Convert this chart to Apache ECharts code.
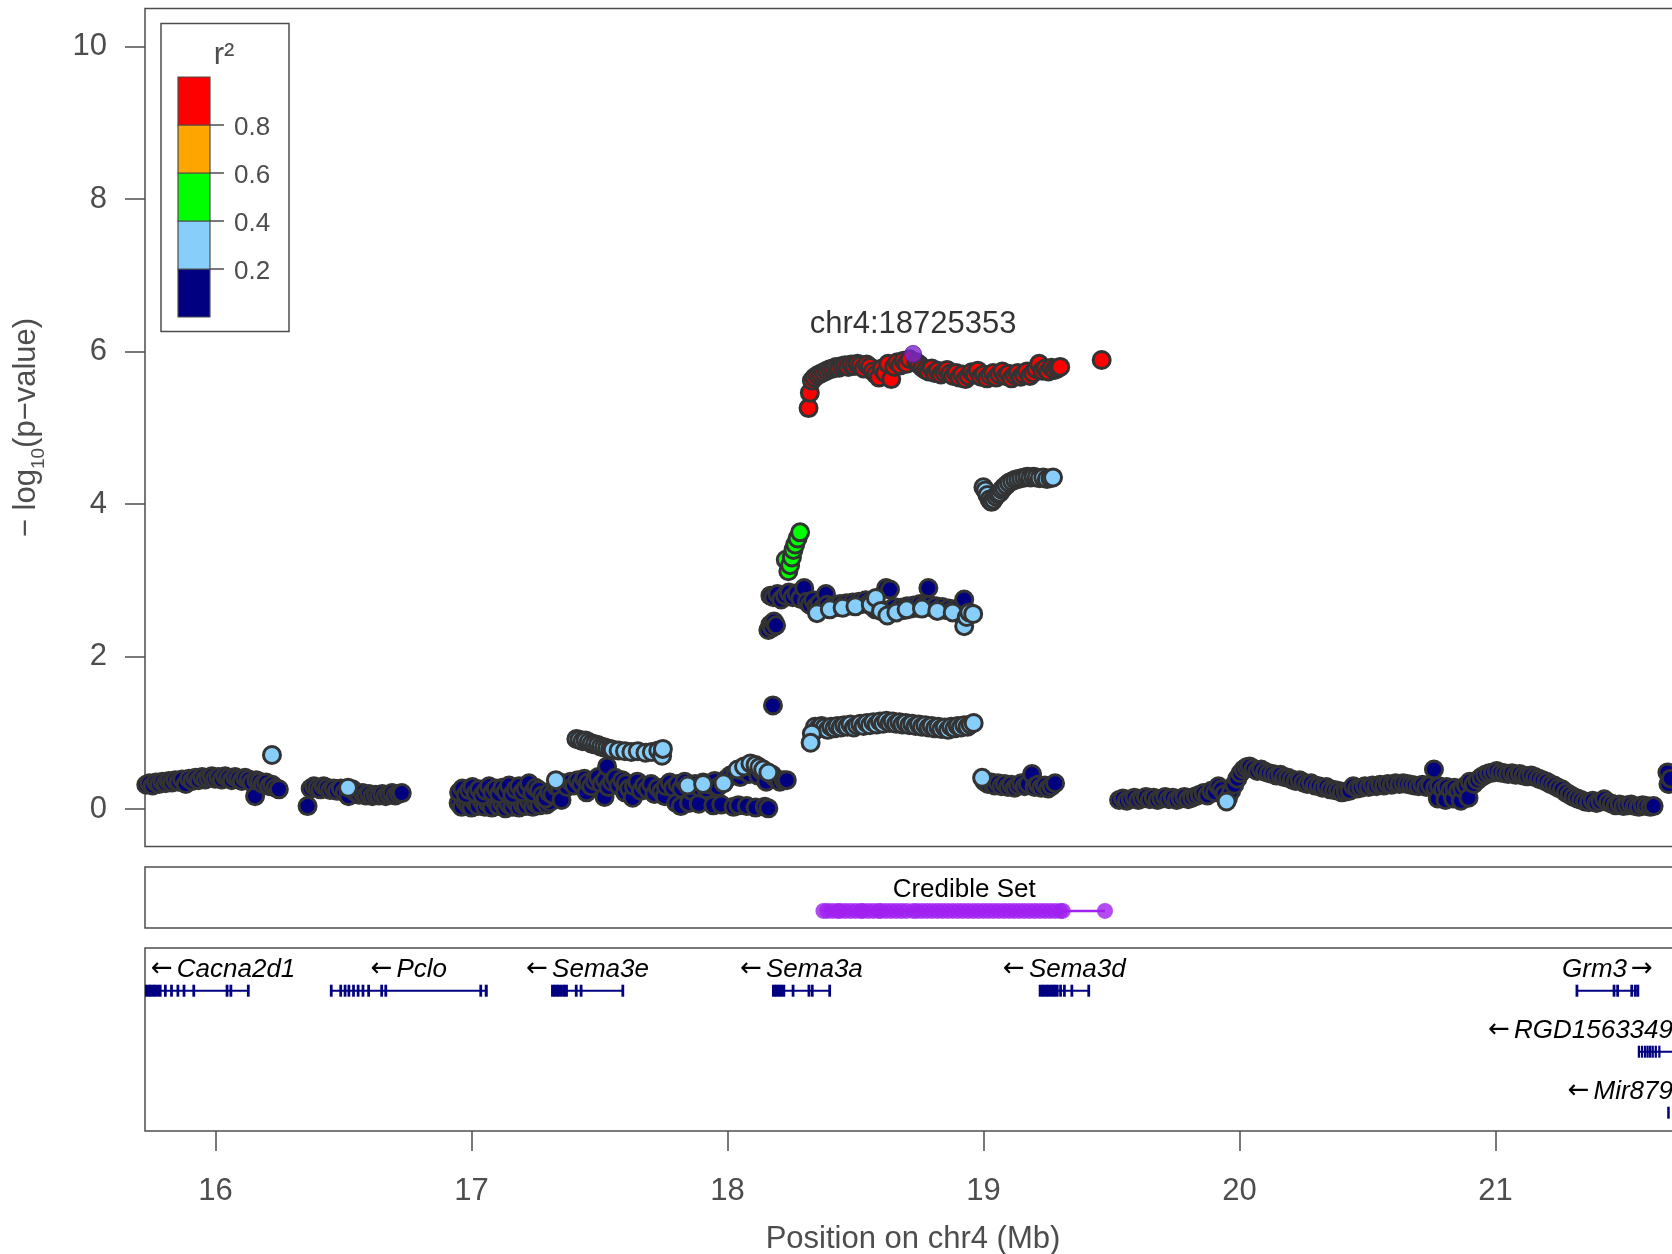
<!DOCTYPE html>
<html>
<head>
<meta charset="utf-8">
<style>
    html, body { margin: 0; padding: 0; background: #fff; }
    #container { width: 1672px; height: 1254px; }
</style>
</head>
<body>
<div id="container"></div>
<script src="https://cdn.jsdelivr.net/npm/echarts@6/dist/echarts.min.js"></script>
<script>
// axis ranges and ticks
const xMin = 15.725, xMax = 21.725;
const xTicks = [16, 17, 18, 19, 20, 21];
const yTicks = [0, 2, 4, 6, 8, 10];

// LD legend (r2 bins, low -> high)
const ldColors = ['#000080', '#87CEFA', '#00FF00', '#FFA500', '#FF0000'];
const ldBreaks = ['0.2', '0.4', '0.6', '0.8'];

// [position (Mb), -log10 p] per r2 bin
const navyPts = [
    [15.730,0.32],[15.742,0.34],[15.755,0.31],[15.768,0.35],[15.780,0.33],[15.793,0.36],[15.806,0.34],[15.818,0.37],[15.830,0.35],[15.843,0.38],
    [15.856,0.36],[15.870,0.39],[15.884,0.33],[15.897,0.40],[15.910,0.37],[15.922,0.41],[15.935,0.38],[15.948,0.42],[15.960,0.39],[15.973,0.41],
    [15.986,0.43],[15.999,0.40],[16.012,0.42],[16.025,0.39],[16.038,0.43],[16.051,0.41],[16.064,0.38],[16.077,0.42],[16.090,0.40],[16.103,0.37],
    [16.116,0.41],[16.130,0.39],[16.142,0.35],[16.155,0.17],[16.160,0.38],[16.172,0.36],[16.185,0.33],[16.198,0.35],[16.210,0.30],[16.222,0.32],
    [16.235,0.28],[16.248,0.26],
    [16.360,0.04],[16.372,0.27],[16.385,0.30],[16.398,0.28],[16.410,0.26],[16.423,0.30],[16.436,0.28],[16.449,0.25],[16.462,0.27],[16.475,0.24],
    [16.490,0.27],[16.505,0.22],[16.520,0.17],[16.535,0.26],[16.548,0.22],[16.561,0.19],[16.575,0.21],[16.588,0.18],[16.600,0.20],[16.613,0.17],
    [16.626,0.19],[16.639,0.18],[16.652,0.20],[16.665,0.17],[16.678,0.19],[16.690,0.21],[16.703,0.18],[16.716,0.20],[16.728,0.21],
    [16.950,0.08],[16.962,0.03],[16.975,0.10],[16.988,0.05],[17.000,0.02],[17.013,0.09],[17.026,0.04],[17.040,0.11],[17.053,0.03],[17.066,0.07],
    [17.080,0.02],[17.093,0.10],[17.106,0.04],[17.120,0.08],[17.133,0.01],[17.146,0.06],[17.160,0.03],[17.173,0.09],[17.186,0.02],[17.200,0.06],
    [17.213,0.04],[17.226,0.10],[17.240,0.03],[17.253,0.07],[17.266,0.05],[17.280,0.11],[17.293,0.06],[17.306,0.09],
    [16.952,0.22],[16.965,0.27],[16.978,0.19],[16.991,0.25],[17.004,0.29],[17.017,0.21],[17.030,0.26],[17.043,0.18],[17.056,0.24],[17.069,0.30],
    [17.082,0.22],[17.095,0.27],[17.108,0.20],[17.121,0.28],[17.134,0.23],[17.147,0.31],[17.160,0.19],[17.173,0.26],[17.186,0.30],[17.199,0.22],
    [17.212,0.27],[17.225,0.34],[17.238,0.21],[17.251,0.28],[17.264,0.25],[17.277,0.18],[17.290,0.14],[17.303,0.22],[17.316,0.19],
    [17.330,0.30],[17.345,0.27],[17.352,0.12],[17.360,0.34],[17.374,0.29],[17.388,0.36],[17.401,0.31],[17.415,0.38],[17.428,0.33],[17.441,0.40],
    [17.450,0.22],[17.455,0.35],[17.468,0.30],[17.482,0.37],[17.495,0.42],[17.508,0.33],[17.520,0.16],[17.522,0.38],[17.530,0.56],[17.535,0.29],
    [17.549,0.36],[17.562,0.41],[17.575,0.31],[17.589,0.38],[17.600,0.22],[17.603,0.34],[17.616,0.27],[17.630,0.15],[17.635,0.30],[17.648,0.36],
    [17.662,0.24],[17.675,0.31],[17.688,0.26],[17.702,0.33],[17.715,0.20],[17.728,0.28],[17.742,0.23],[17.755,0.17],[17.760,0.30],
    [17.775,0.35],[17.788,0.28],[17.800,0.08],[17.805,0.33],[17.818,0.04],[17.820,0.27],[17.833,0.36],[17.846,0.30],[17.850,0.08],[17.860,0.24],
    [17.874,0.33],[17.888,0.07],[17.892,0.28],[17.905,0.35],[17.918,0.26],[17.932,0.32],[17.945,0.05],[17.950,0.37],[17.963,0.29],[17.976,0.06],
    [17.985,0.34],[17.998,0.40],[18.011,0.44],[18.024,0.03],[18.030,0.47],[18.043,0.05],[18.050,0.42],[18.063,0.50],[18.076,0.04],[18.085,0.46],
    [18.098,0.55],[18.110,0.02],[18.120,0.44],[18.133,0.50],[18.146,0.03],[18.152,0.36],[18.160,0.01],[18.175,0.45],[18.190,0.40],[18.205,0.36],
    [18.220,0.38],[18.232,0.38],
    [18.178,1.36],
    [18.160,2.35],[18.168,2.42],[18.175,2.38],[18.182,2.46],[18.190,2.41],[18.168,2.80],[18.180,2.78],[18.195,2.82],[18.210,2.75],[18.225,2.80],
    [18.240,2.84],[18.255,2.78],[18.270,2.83],[18.285,2.76],[18.300,2.90],
    [18.310,2.72],[18.322,2.68],[18.335,2.74],[18.347,2.66],[18.360,2.70],[18.372,2.64],[18.385,2.82],[18.390,2.68],[18.402,2.63],[18.415,2.67],
    [18.428,2.65],[18.440,2.69],[18.452,2.66],[18.465,2.70],[18.478,2.67],[18.490,2.71],[18.502,2.68],[18.515,2.72],[18.528,2.69],[18.540,2.74],
    [18.552,2.70],[18.565,2.66],[18.578,2.62],[18.590,2.64],[18.603,2.60],[18.620,2.90],[18.635,2.88],[18.640,2.62],[18.652,2.65],[18.665,2.60],
    [18.678,2.64],[18.690,2.61],[18.702,2.66],[18.715,2.63],[18.728,2.67],[18.740,2.64],[18.752,2.69],[18.765,2.66],[18.785,2.90],[18.790,2.68],
    [18.803,2.64],[18.815,2.66],[18.828,2.62],[18.840,2.65],[18.852,2.61],[18.865,2.63],[18.878,2.60],[18.890,2.62],[18.903,2.58],[18.915,2.60],
    [18.925,2.75],
    [19.005,0.36],[19.018,0.33],[19.031,0.35],[19.044,0.31],[19.057,0.34],[19.070,0.30],[19.083,0.33],[19.096,0.29],[19.109,0.32],[19.122,0.28],
    [19.135,0.31],[19.148,0.34],[19.161,0.30],[19.174,0.33],[19.190,0.46],[19.200,0.29],[19.213,0.32],[19.226,0.28],[19.240,0.31],[19.253,0.27],
    [19.266,0.30],[19.280,0.34],
    [19.530,0.12],[19.545,0.14],[19.560,0.11],[19.575,0.13],[19.590,0.15],[19.605,0.12],[19.620,0.14],[19.635,0.16],[19.650,0.13],[19.665,0.15],
    [19.680,0.12],[19.695,0.14],[19.710,0.16],[19.725,0.13],[19.740,0.15],[19.755,0.12],[19.770,0.14],[19.785,0.16],[19.800,0.13],[19.815,0.15],
    [19.830,0.17],[19.845,0.19],[19.860,0.21],[19.875,0.18],[19.890,0.24],[19.905,0.22],[19.918,0.30],[19.930,0.26],[19.942,0.20],[19.955,0.14],
    [19.968,0.24],[19.980,0.32],[19.992,0.40],[20.004,0.47],[20.016,0.52],[20.028,0.55],[20.040,0.56],[20.055,0.53],[20.070,0.50],[20.085,0.52],
    [20.100,0.49],[20.115,0.47],[20.130,0.46],[20.145,0.44],[20.160,0.45],[20.175,0.42],[20.190,0.41],[20.205,0.39],[20.220,0.37],[20.235,0.38],
    [20.250,0.35],[20.265,0.33],[20.280,0.34],[20.295,0.31],[20.310,0.30],[20.325,0.28],[20.340,0.29],[20.355,0.26],[20.370,0.25],[20.385,0.24],
    [20.400,0.22],[20.415,0.23],[20.430,0.24],[20.445,0.30],[20.460,0.27],[20.475,0.28],[20.490,0.30],[20.505,0.29],[20.520,0.31],[20.535,0.30],
    [20.550,0.32],[20.565,0.31],[20.580,0.33],[20.595,0.32],[20.610,0.34],[20.625,0.33],[20.640,0.34],[20.655,0.33],[20.670,0.32],[20.685,0.31],
    [20.700,0.30],[20.715,0.32],[20.730,0.29],[20.745,0.31],[20.760,0.52],[20.765,0.28],[20.775,0.14],[20.780,0.30],[20.795,0.26],[20.805,0.12],
    [20.810,0.29],[20.825,0.25],[20.835,0.14],[20.840,0.28],[20.855,0.24],[20.865,0.11],[20.870,0.27],[20.885,0.31],[20.895,0.15],[20.900,0.36],
    [20.915,0.33],[20.930,0.38],[20.945,0.42],[20.960,0.45],[20.975,0.47],[20.990,0.48],[21.005,0.50],[21.020,0.48],[21.035,0.47],[21.050,0.46],
    [21.065,0.47],[21.080,0.45],[21.095,0.46],[21.110,0.44],[21.125,0.43],[21.140,0.44],[21.155,0.42],[21.170,0.40],[21.185,0.38],[21.200,0.36],
    [21.215,0.33],[21.230,0.31],[21.245,0.28],[21.260,0.26],[21.275,0.22],[21.290,0.19],[21.305,0.16],[21.320,0.14],[21.335,0.12],[21.350,0.10],
    [21.365,0.09],[21.380,0.11],[21.395,0.08],[21.410,0.10],[21.425,0.13],[21.440,0.09],[21.455,0.07],[21.470,0.05],[21.485,0.06],[21.500,0.04],
    [21.515,0.05],[21.530,0.06],[21.545,0.04],[21.560,0.03],[21.575,0.05],[21.590,0.04],[21.605,0.03],[21.618,0.04],
    [21.672,0.48],[21.676,0.33],[21.685,0.40]
];
const lightPts = [
    [16.221,0.71],[16.518,0.28],[17.330,0.38],
    [17.410,0.92],[17.422,0.91],[17.434,0.89],[17.446,0.90],[17.458,0.88],[17.470,0.86],[17.482,0.85],[17.494,0.84],[17.506,0.82],[17.518,0.81],
    [17.530,0.80],[17.542,0.79],[17.552,0.78],[17.575,0.77],[17.600,0.76],[17.625,0.75],[17.650,0.76],[17.680,0.74],[17.705,0.75],[17.730,0.77],
    [17.745,0.70],[17.748,0.79],
    [17.845,0.31],[17.905,0.33],[17.985,0.34],[18.040,0.52],[18.065,0.56],[18.090,0.60],[18.110,0.58],[18.125,0.55],[18.140,0.52],[18.160,0.48],
    [18.350,2.57],[18.400,2.62],[18.450,2.64],[18.500,2.66],[18.560,2.68],[18.580,2.77],[18.600,2.60],[18.625,2.54],[18.660,2.58],[18.700,2.62],
    [18.760,2.63],[18.820,2.60],[18.880,2.58],[18.925,2.40],[18.935,2.52],[18.945,2.58],[18.960,2.56],
    [18.342,1.08],[18.355,1.06],[18.368,1.09],[18.380,1.07],[18.392,1.04],[18.405,1.08],[18.418,1.06],[18.430,1.09],[18.443,1.07],[18.456,1.10],
    [18.468,1.08],[18.481,1.11],[18.494,1.07],[18.506,1.10],[18.519,1.12],[18.532,1.09],[18.545,1.13],[18.557,1.10],[18.570,1.14],[18.583,1.11],
    [18.596,1.15],[18.608,1.12],[18.621,1.16],[18.634,1.13],[18.646,1.15],[18.659,1.12],[18.672,1.14],[18.684,1.11],[18.697,1.13],[18.710,1.10],
    [18.722,1.12],[18.735,1.09],[18.748,1.11],[18.760,1.08],[18.773,1.10],[18.786,1.07],[18.798,1.09],[18.811,1.06],[18.824,1.08],[18.836,1.05],
    [18.849,1.07],[18.862,1.04],[18.874,1.08],[18.887,1.06],[18.900,1.09],[18.912,1.07],[18.925,1.10],[18.938,1.08],[18.950,1.11],
    [18.330,0.99],[18.325,0.87],[18.962,1.13],
    [19.000,4.22],[19.008,4.18],[19.016,4.12],[19.024,4.06],[19.032,4.03],[19.040,4.06],[19.048,4.10],[19.056,4.13],[19.064,4.15],[19.072,4.19],
    [19.080,4.22],[19.090,4.25],[19.100,4.28],[19.112,4.30],[19.124,4.32],[19.136,4.33],[19.148,4.34],[19.160,4.35],[19.172,4.36],[19.184,4.35],
    [19.196,4.36],[19.208,4.35],[19.220,4.34],[19.234,4.35],[19.248,4.33],[19.262,4.34],[19.272,4.35],
    [18.995,0.41],[19.950,0.10]
];
const greenPts = [
    [18.228,3.27],[18.238,3.12],[18.245,3.20],[18.252,3.30],[18.258,3.40],[18.265,3.47],[18.274,3.55],[18.284,3.63]
];
const redPts = [
    [18.317,5.26],[18.322,5.46],[18.330,5.62],[18.340,5.66],[18.352,5.69],[18.364,5.71],[18.376,5.73],[18.388,5.75],[18.400,5.77],[18.412,5.78],
    [18.424,5.80],[18.436,5.79],[18.448,5.81],[18.460,5.82],[18.472,5.80],[18.484,5.83],[18.496,5.81],[18.508,5.84],[18.520,5.82],[18.532,5.78],
    [18.544,5.83],[18.556,5.80],[18.568,5.74],[18.580,5.70],[18.592,5.66],[18.604,5.78],[18.616,5.72],[18.628,5.84],[18.640,5.64],[18.652,5.80],
    [18.664,5.86],[18.676,5.82],[18.688,5.88],[18.700,5.84],[18.712,5.90],[18.738,5.86],[18.750,5.83],[18.762,5.79],[18.774,5.76],[18.786,5.74],
    [18.798,5.78],[18.810,5.72],[18.822,5.75],[18.834,5.70],[18.846,5.73],[18.858,5.76],[18.870,5.71],[18.882,5.68],[18.894,5.72],[18.906,5.66],
    [18.918,5.70],[18.930,5.64],[18.942,5.68],[18.954,5.73],[18.966,5.70],[18.978,5.75],[18.990,5.67],[19.002,5.70],[19.014,5.65],[19.026,5.69],
    [19.038,5.72],[19.050,5.66],[19.062,5.70],[19.074,5.74],[19.086,5.68],[19.098,5.71],[19.110,5.65],[19.122,5.69],[19.134,5.72],[19.146,5.67],
    [19.158,5.70],[19.170,5.74],[19.182,5.68],[19.194,5.72],[19.206,5.77],[19.218,5.84],[19.230,5.75],[19.242,5.78],[19.254,5.74],[19.266,5.79],
    [19.278,5.76],[19.290,5.78],[19.300,5.80],[19.462,5.89]
];
const leadSnp = [18.725353, 5.97];
const leadName = 'chr4:18725353';

// credible set positions (Mb)
const credibleSet = [
    18.375,18.39,18.41,18.43,18.44,18.46,18.48,18.50,18.52,18.53,18.55,18.57,18.59,18.60,18.62,18.64,18.66,18.68,18.70,18.725353,
    18.74,18.76,18.78,18.80,18.82,18.84,18.86,18.88,18.90,18.92,18.94,18.96,18.98,19.00,19.02,19.04,19.06,19.08,19.10,19.12,
    19.14,19.16,19.18,19.20,19.22,19.24,19.26,19.28,19.30,19.31,19.475
];

// genes: strand -1 = reverse, row = track line
const genes = [
    {name: 'Cacna2d1', start: 15.729, end: 16.130, strand: -1, row: 0,
        exons: [[15.729,15.742],[15.746,15.760],[15.765,15.786],[15.803,15.806],[15.827,15.830],[15.852,15.855],[15.876,15.879],[15.914,15.917],[16.044,16.047],[16.059,16.062],[16.127,16.130]]},
    {name: 'Pclo', start: 16.451, end: 17.060, strand: -1, row: 0,
        exons: [[16.451,16.454],[16.488,16.491],[16.505,16.508],[16.520,16.523],[16.538,16.541],[16.556,16.559],[16.575,16.578],[16.597,16.600],[16.648,16.651],[16.664,16.667],[17.035,17.038],[17.056,17.060]]},
    {name: 'Sema3e', start: 17.315, end: 17.593, strand: -1, row: 0,
        exons: [[17.315,17.322],[17.327,17.333],[17.338,17.350],[17.358,17.362],[17.367,17.373],[17.408,17.411],[17.427,17.430],[17.590,17.593]]},
    {name: 'Sema3a', start: 18.178, end: 18.401, strand: -1, row: 0,
        exons: [[18.178,18.186],[18.191,18.196],[18.200,18.206],[18.212,18.222],[18.255,18.258],[18.317,18.320],[18.330,18.333],[18.398,18.401]]},
    {name: 'Sema3d', start: 19.220, end: 19.413, strand: -1, row: 0,
        exons: [[19.220,19.230],[19.235,19.245],[19.250,19.262],[19.268,19.275],[19.280,19.290],[19.300,19.303],[19.315,19.318],[19.344,19.347],[19.410,19.413]]},
    {name: 'Grm3', start: 21.317, end: 21.558, strand: 1, row: 0,
        exons: [[21.317,21.320],[21.462,21.465],[21.476,21.479],[21.531,21.534],[21.545,21.548],[21.555,21.558]]},
    {name: 'RGD1563349', start: 21.560, end: 21.725, strand: -1, row: 1,
        exons: [[21.560,21.561],[21.572,21.573],[21.584,21.585],[21.594,21.595],[21.604,21.605],[21.614,21.615],[21.626,21.627],[21.640,21.641]]},
    {name: 'Mir879', start: 21.675, end: 21.677, strand: -1, row: 2,
        exons: [[21.675,21.677]]}
];

const font = '"Liberation Sans", Arial, sans-serif';
const grey = '#4d4d4d';
const border = '#333333';

const measureCtx = document.createElement('canvas').getContext('2d');
function textWidth(str, f) {
    measureCtx.font = f;
    return measureCtx.measureText(str).width;
}

const credible = credibleSet.map(x => [x, 0.28]);

function renderGene(params, api) {
    const g = genes[api.value(2)];
    const cs = params.coordSys;
    const yLine = api.coord([g.start, g.row + 0.7])[1];
    const x0 = api.coord([g.start, 0])[0];
    const x1 = api.coord([g.end, 0])[0];
    const kids = [{
        type: 'line',
        shape: {x1: x0, y1: yLine, x2: x1, y2: yLine},
        style: {stroke: '#000080', lineWidth: 2}
    }];
    g.exons.forEach(e => {
        const a = api.coord([e[0], 0])[0];
        const b = api.coord([e[1], 0])[0];
        kids.push({
            type: 'rect',
            shape: {x: a - 1, y: yLine - 6, width: Math.max(b - a, 0) + 2, height: 12},
            style: {fill: '#000080'}
        });
    });
    const nf = 'italic 26px ' + font;
    const af = '26px "DejaVu Sans"';
    const w = textWidth(g.name, nf) + textWidth('\u2190', af) + 4;
    const label = g.strand < 0 ? '{a|\u2190}' + g.name : g.name + '{b|\u2192}';
    let cx = (x0 + x1) / 2;
    cx = Math.min(cs.x + cs.width - 8 - w / 2, cx);
    cx = Math.max(cs.x + 6 + w / 2, cx);
    kids.push({
        type: 'text',
        x: cx, y: yLine - 21,
        style: {
            text: label, fontFamily: font, fontStyle: 'italic', fontSize: 26, fill: '#000',
            align: 'center', verticalAlign: 'middle',
            rich: {
                a: {fontFamily: 'DejaVu Sans', fontStyle: 'normal', fontSize: 26, padding: [0, 4, 0, 0]},
                b: {fontFamily: 'DejaVu Sans', fontStyle: 'normal', fontSize: 26, padding: [0, 0, 0, 4]}
            }
        }
    });
    return {type: 'group', children: kids};
}

function ptSeries(data, color) {
    return {
        type: 'scatter', xAxisIndex: 0, yAxisIndex: 0, data: data,
        symbol: 'circle', symbolSize: 17, silent: true, progressive: 0,
        itemStyle: {color: color, borderColor: border, borderWidth: 3, opacity: 1}
    };
}

const gridL = 145, gridW = 1536;
const frame = {show: true, borderColor: grey, borderWidth: 1.5, backgroundColor: 'transparent', outerBoundsMode: 'none', containLabel: false};
const option = {
    animation: false,
    backgroundColor: '#fff',
    grid: [
        Object.assign({left: gridL, top: 8.5, width: gridW, height: 838}, frame),
        Object.assign({left: gridL, top: 867, width: gridW, height: 61}, frame),
        Object.assign({left: gridL, top: 948, width: gridW, height: 183}, frame)
    ],
    xAxis: [0, 1, 2].map(i => ({
        gridIndex: i, type: 'value', min: xMin, max: xMax, position: 'bottom',
        splitLine: {show: false}, axisLine: {show: false, onZero: false},
        axisTick: i === 2 ? {show: true, inside: false, customValues: xTicks, length: 20, lineStyle: {color: grey, width: 1.5}} : {show: false},
        axisLabel: i === 2 ? {show: true, customValues: xTicks, fontSize: 31, color: grey, fontFamily: font, margin: 45} : {show: false},
        name: i === 2 ? 'Position on chr4 (Mb)' : '',
        nameLocation: 'middle', nameGap: 93,
        nameTextStyle: {fontSize: 31, color: grey, fontFamily: font}
    })),
    yAxis: [
        {
            gridIndex: 0, type: 'value', min: -0.49, max: 10.5,
            splitLine: {show: false}, axisLine: {show: false, onZero: false},
            axisTick: {show: true, customValues: yTicks, length: 20, lineStyle: {color: grey, width: 1.5}},
            axisLabel: {customValues: yTicks, fontSize: 31, color: grey, fontFamily: font, margin: 38},
            name: '\u2212 log{sub|10}(p\u2212value)',
            nameLocation: 'middle', nameGap: 97, nameRotate: 90,
            nameTextStyle: {
                fontSize: 31, color: grey, fontFamily: font, lineHeight: 44,
                rich: {sub: {fontSize: 19, color: grey, fontFamily: font, verticalAlign: 'bottom', lineHeight: 22}}
            }
        },
        {gridIndex: 1, type: 'value', min: 0, max: 1, show: false},
        {gridIndex: 2, type: 'value', min: 0, max: 3, inverse: true, show: false}
    ],
    series: [
        ptSeries(navyPts, ldColors[0]),
        ptSeries(lightPts, ldColors[1]),
        ptSeries(greenPts, ldColors[2]),
        ptSeries(redPts, ldColors[4]),
        {
            type: 'scatter', xAxisIndex: 0, yAxisIndex: 0, data: [leadSnp],
            symbol: 'circle', symbolSize: 17, silent: true,
            itemStyle: {color: '#7D26CD', borderColor: '#5a1a9a', borderWidth: 1},
            label: {show: true, position: 'top', distance: 5, formatter: leadName,
                fontSize: 31, color: '#000', fontFamily: font}
        },
        {
            type: 'line', xAxisIndex: 1, yAxisIndex: 1, data: credible,
            showSymbol: false, silent: true,
            lineStyle: {color: '#A020F0', width: 2.5}
        },
        {
            type: 'scatter', xAxisIndex: 1, yAxisIndex: 1, data: credible,
            symbol: 'circle', symbolSize: 16, silent: true,
            itemStyle: {color: '#A020F0'}
        },
        {
            type: 'custom', xAxisIndex: 2, yAxisIndex: 2, silent: true, clip: false,
            data: genes.map((g, i) => [g.start, g.row, i]),
            renderItem: renderGene
        }
    ]
};

const chart = echarts.init(document.getElementById('container'));
chart.setOption(option);

// legend for r2 and credible set label
const barX = 178, barTop = 77, binH = 48, barW = 32;
const legend = [{
    type: 'rect', z: 100,
    shape: {x: 161, y: 23.5, width: 128, height: 308},
    style: {fill: '#fff', stroke: grey, lineWidth: 1.5}
}, {
    type: 'text', z: 101, x: 224, y: 55,
    style: {text: 'r\u00B2', font: '31px ' + font, fill: grey, align: 'center', verticalAlign: 'middle'}
}];
ldColors.forEach((c, i) => {
    legend.push({
        type: 'rect', z: 101,
        shape: {x: barX, y: barTop + (ldColors.length - 1 - i) * binH, width: barW, height: binH},
        style: {fill: c, stroke: grey, lineWidth: 1.2}
    });
});
ldBreaks.forEach((b, i) => {
    const y = barTop + (ldColors.length - 1 - i) * binH;
    legend.push({
        type: 'line', z: 101,
        shape: {x1: barX + barW, y1: y, x2: barX + barW + 14, y2: y},
        style: {stroke: grey, lineWidth: 1.5}
    });
    legend.push({
        type: 'text', z: 101, x: barX + barW + 24, y: y + 3,
        style: {text: b, font: '26px ' + font, fill: grey, align: 'left', verticalAlign: 'middle'}
    });
});
const csMid = (credibleSet[0] + credibleSet[credibleSet.length - 1]) / 2;
const csPix = chart.convertToPixel({xAxisIndex: 1, yAxisIndex: 1}, [csMid, 0.62]);
legend.push({
    type: 'text', z: 101, x: csPix[0], y: csPix[1],
    style: {text: 'Credible Set', font: '26px ' + font, fill: '#000', align: 'center', verticalAlign: 'middle'}
});
chart.setOption({graphic: legend});
</script>
</body>
</html>
